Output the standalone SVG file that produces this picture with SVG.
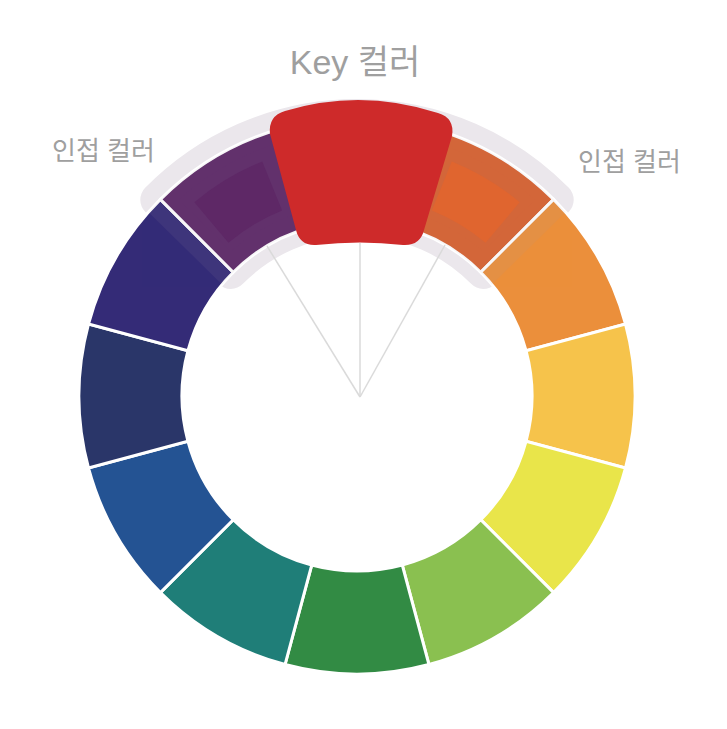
<svg xmlns="http://www.w3.org/2000/svg" width="727" height="729" viewBox="0 0 727 729">
  <defs>
    <clipPath id="ring">
      <path clip-rule="evenodd" d="M357,118 A278,278 0 1 1 356.99,118 Z M357,221 A175,175 0 1 0 357.01,221 Z"/>
    </clipPath>
  </defs>
  <style>
    .seg { stroke: #ffffff; stroke-width: 3; stroke-linejoin: miter; }
    .lbl { font-family: "Liberation Sans", "Noto Sans CJK KR", sans-serif; fill: #9F9F9F; }
    .halo { fill: #EBE7EC; stroke: #EBE7EC; stroke-width: 34; stroke-linejoin: round; }
    .halo-over { fill: #A096A3; stroke: #A096A3; stroke-width: 30; stroke-linejoin: round; opacity: 0.09; }
    .guide { stroke: #DADADA; stroke-width: 1.5; fill: none; }
  </style>
  <rect width="727" height="729" fill="#ffffff"/>

  <g id="halo">
    <path class="halo" d="M157.29,199.75 A280,280 0 0 1 556.71,199.75 L483.25,271.94 A177,177 0 0 0 230.75,271.94 Z"/>
  </g>

  <g id="wheel">
    <g id="seg-orange-red"><path class="seg" fill="#D8612F" d="M428.95,127.47 A278,278 0 0 1 553.58,199.42 L480.74,272.26 A175,175 0 0 0 402.29,226.96 Z"/></g>
    <g id="seg-orange"><path class="seg" fill="#EB8F3B" d="M553.58,199.42 A278,278 0 0 1 625.53,324.05 L526.04,350.71 A175,175 0 0 0 480.74,272.26 Z"/></g>
    <g id="seg-yellow-orange"><path class="seg" fill="#F6C34B" d="M625.53,324.05 A278,278 0 0 1 625.53,467.95 L526.04,441.29 A175,175 0 0 0 526.04,350.71 Z"/></g>
    <g id="seg-yellow"><path class="seg" fill="#E9E54A" d="M625.53,467.95 A278,278 0 0 1 553.58,592.58 L480.74,519.74 A175,175 0 0 0 526.04,441.29 Z"/></g>
    <g id="seg-yellow-green"><path class="seg" fill="#8AC050" d="M553.58,592.58 A278,278 0 0 1 428.95,664.53 L402.29,565.04 A175,175 0 0 0 480.74,519.74 Z"/></g>
    <g id="seg-green"><path class="seg" fill="#328B44" d="M428.95,664.53 A278,278 0 0 1 285.05,664.53 L311.71,565.04 A175,175 0 0 0 402.29,565.04 Z"/></g>
    <g id="seg-teal"><path class="seg" fill="#1F7E78" d="M285.05,664.53 A278,278 0 0 1 160.42,592.58 L233.26,519.74 A175,175 0 0 0 311.71,565.04 Z"/></g>
    <g id="seg-blue"><path class="seg" fill="#245393" d="M160.42,592.58 A278,278 0 0 1 88.47,467.95 L187.96,441.29 A175,175 0 0 0 233.26,519.74 Z"/></g>
    <g id="seg-navy"><path class="seg" fill="#2A3669" d="M88.47,467.95 A278,278 0 0 1 88.47,324.05 L187.96,350.71 A175,175 0 0 0 187.96,441.29 Z"/></g>
    <g id="seg-indigo"><path class="seg" fill="#342B77" d="M88.47,324.05 A278,278 0 0 1 160.42,199.42 L233.26,272.26 A175,175 0 0 0 187.96,350.71 Z"/></g>
    <g id="seg-purple"><path class="seg" fill="#5C2767" d="M160.42,199.42 A278,278 0 0 1 285.05,127.47 L311.71,226.96 A175,175 0 0 0 233.26,272.26 Z"/></g>
  </g>

  <g id="halo-overlay">
    <path class="halo-over" clip-path="url(#ring)" d="M157.29,199.75 A280,280 0 0 1 556.71,199.75 L483.25,271.94 A177,177 0 0 0 230.75,271.94 Z"/>
    <path fill="#E0652F" d="M451.78,161.42 A253,253 0 0 1 519.63,202.19 L485.56,242.79 A200,200 0 0 0 431.92,210.56 Z"/>
    <path fill="#5E2866" d="M194.37,202.19 A253,253 0 0 1 262.22,161.42 L282.08,210.56 A200,200 0 0 0 228.44,242.79 Z"/>
  </g>

  <g id="connectors">
    <line class="guide" x1="360" y1="397" x2="360" y2="243"/>
    <line class="guide" x1="360" y1="397" x2="267" y2="246"/>
    <line class="guide" x1="360" y1="397" x2="445" y2="245"/>
  </g>

  <g id="key-color">
    <path fill="#CE2A2A" d="M285,111 Q361,88 438,113 Q455,118 452,136 L424,230 Q420,246 403,245 Q360,240 316,245 Q300,246 296,230 L270,134 Q268,116 285,111 Z"/>
  </g>

  <g id="labels">
    <text id="label-key" class="lbl" x="355" y="74" font-size="34" text-anchor="middle">Key 컬러</text>
    <text id="label-left" class="lbl" x="52" y="160" font-size="26">인접 컬러</text>
    <text id="label-right" class="lbl" x="578" y="171" font-size="26">인접 컬러</text>
  </g>
</svg>
